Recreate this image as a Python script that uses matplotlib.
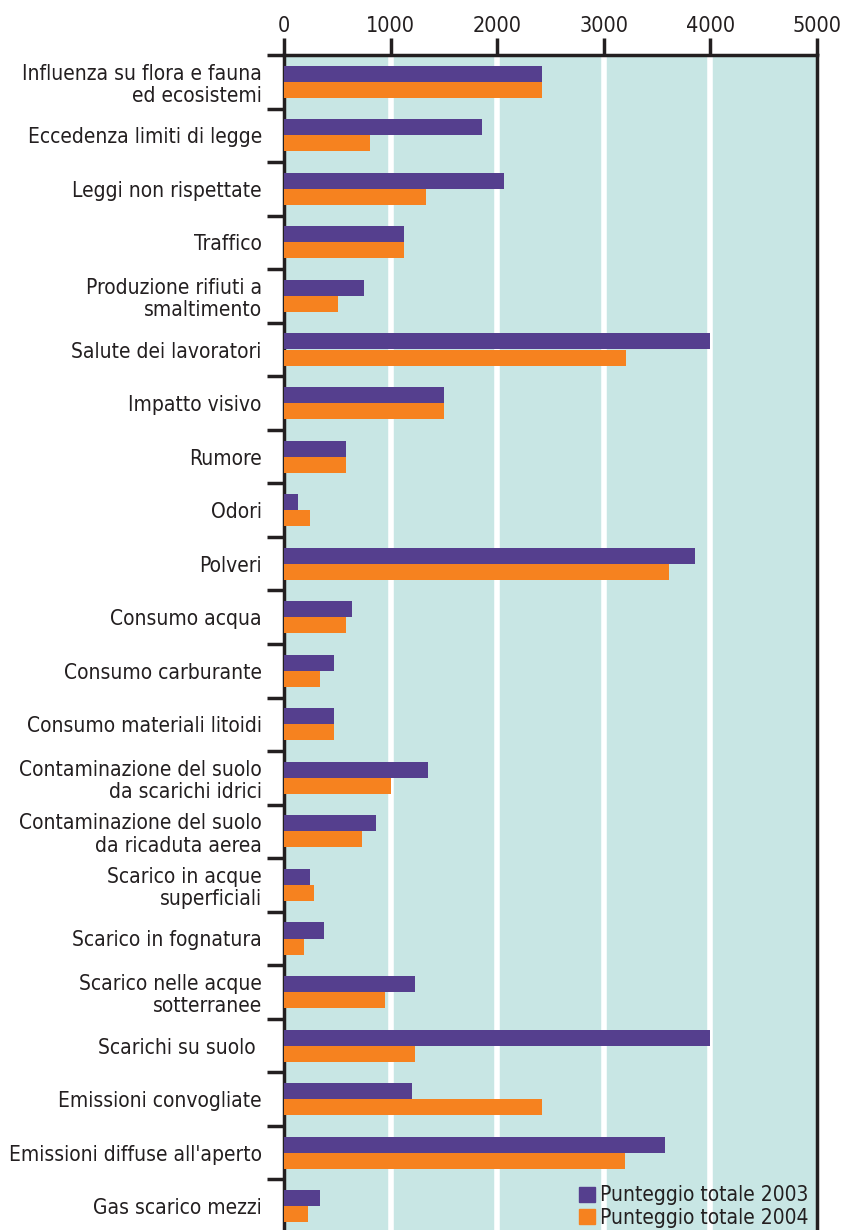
import numpy as np
import matplotlib.pyplot as plt
from matplotlib.patches import Patch

plt.rcParams['font.family'] = ['DejaVu Sans']
plt.rcParams['font.stretch'] = 'condensed'

categories = [
    "Influenza su flora e fauna\ned ecosistemi",
    "Eccedenza limiti di legge",
    "Leggi non rispettate",
    "Traffico",
    "Produzione rifiuti a\nsmaltimento",
    "Salute dei lavoratori",
    "Impatto visivo",
    "Rumore",
    "Odori",
    "Polveri",
    "Consumo acqua",
    "Consumo carburante",
    "Consumo materiali litoidi",
    "Contaminazione del suolo\nda scarichi idrici",
    "Contaminazione del suolo\nda ricaduta aerea",
    "Scarico in acque\nsuperficiali",
    "Scarico in fognatura",
    "Scarico nelle acque\nsotterranee",
    "Scarichi su suolo ",
    "Emissioni convogliate",
    "Emissioni diffuse all'aperto",
    "Gas scarico mezzi",
]
score_2003 = [2420, 1855, 2060, 1130, 755, 4000, 1505, 585, 135, 3860,
              640, 470, 470, 1355, 865, 245, 375, 1225, 4000, 1205, 3570, 340]
score_2004 = [2420, 810, 1335, 1130, 510, 3210, 1505, 585, 245, 3615,
              585, 340, 470, 1000, 735, 280, 190, 945, 1225, 2420, 3195, 225]
xticks = [0, 1000, 2000, 3000, 4000, 5000]

purple = "#553f8e"
orange = "#f6821f"
dark = "#231f20"

fig = plt.figure(figsize=(8.41, 12.3), dpi=100)
ax = fig.add_axes([284 / 841, -3 / 1230, 533 / 841, 1178 / 1230])
ax.set_facecolor("#c8e6e4")

n = len(categories)
pos = np.arange(n) + 0.5
ax.barh(pos - 0.15, score_2003, height=0.3, color=purple, zorder=3)
ax.barh(pos + 0.15, score_2004, height=0.3, color=orange, zorder=3)

ax.set_xlim(0, 5000)
ax.set_ylim(n, 0)

# white vertical grid
for x in xticks[1:-1]:
    ax.axvline(x, color="white", lw=4, zorder=1)

ax.xaxis.tick_top()
ax.set_xticks(xticks)
ax.set_xticklabels([str(x) for x in xticks], fontsize=15.5, color=dark)
ax.tick_params(axis="x", direction="out", length=12, width=2.5, color=dark, pad=2)

ax.set_yticks(np.arange(n + 1))
ax.set_yticklabels([])
ax.set_yticks(pos, minor=True)
ax.set_yticklabels(categories, minor=True, fontsize=15, color=dark, linespacing=1.15)
ax.tick_params(axis="y", which="major", direction="out", length=12, width=2.5, color=dark)
ax.tick_params(axis="y", which="minor", length=0, pad=16)

for side in ["top", "left", "right"]:
    ax.spines[side].set_linewidth(2.5)
    ax.spines[side].set_color(dark)
ax.spines["bottom"].set_visible(False)

handles = [Patch(color=purple), Patch(color=orange)]
ax.legend(handles, ["Punteggio totale 2003", "Punteggio totale 2004"],
          loc="lower right", bbox_to_anchor=(1.008, -0.006), frameon=False,
          fontsize=15, handlelength=0.75, handleheight=0.75, handletextpad=0.25,
          labelspacing=0.1, borderpad=0.1, labelcolor=dark)

fig.savefig("out.png", dpi=100)
